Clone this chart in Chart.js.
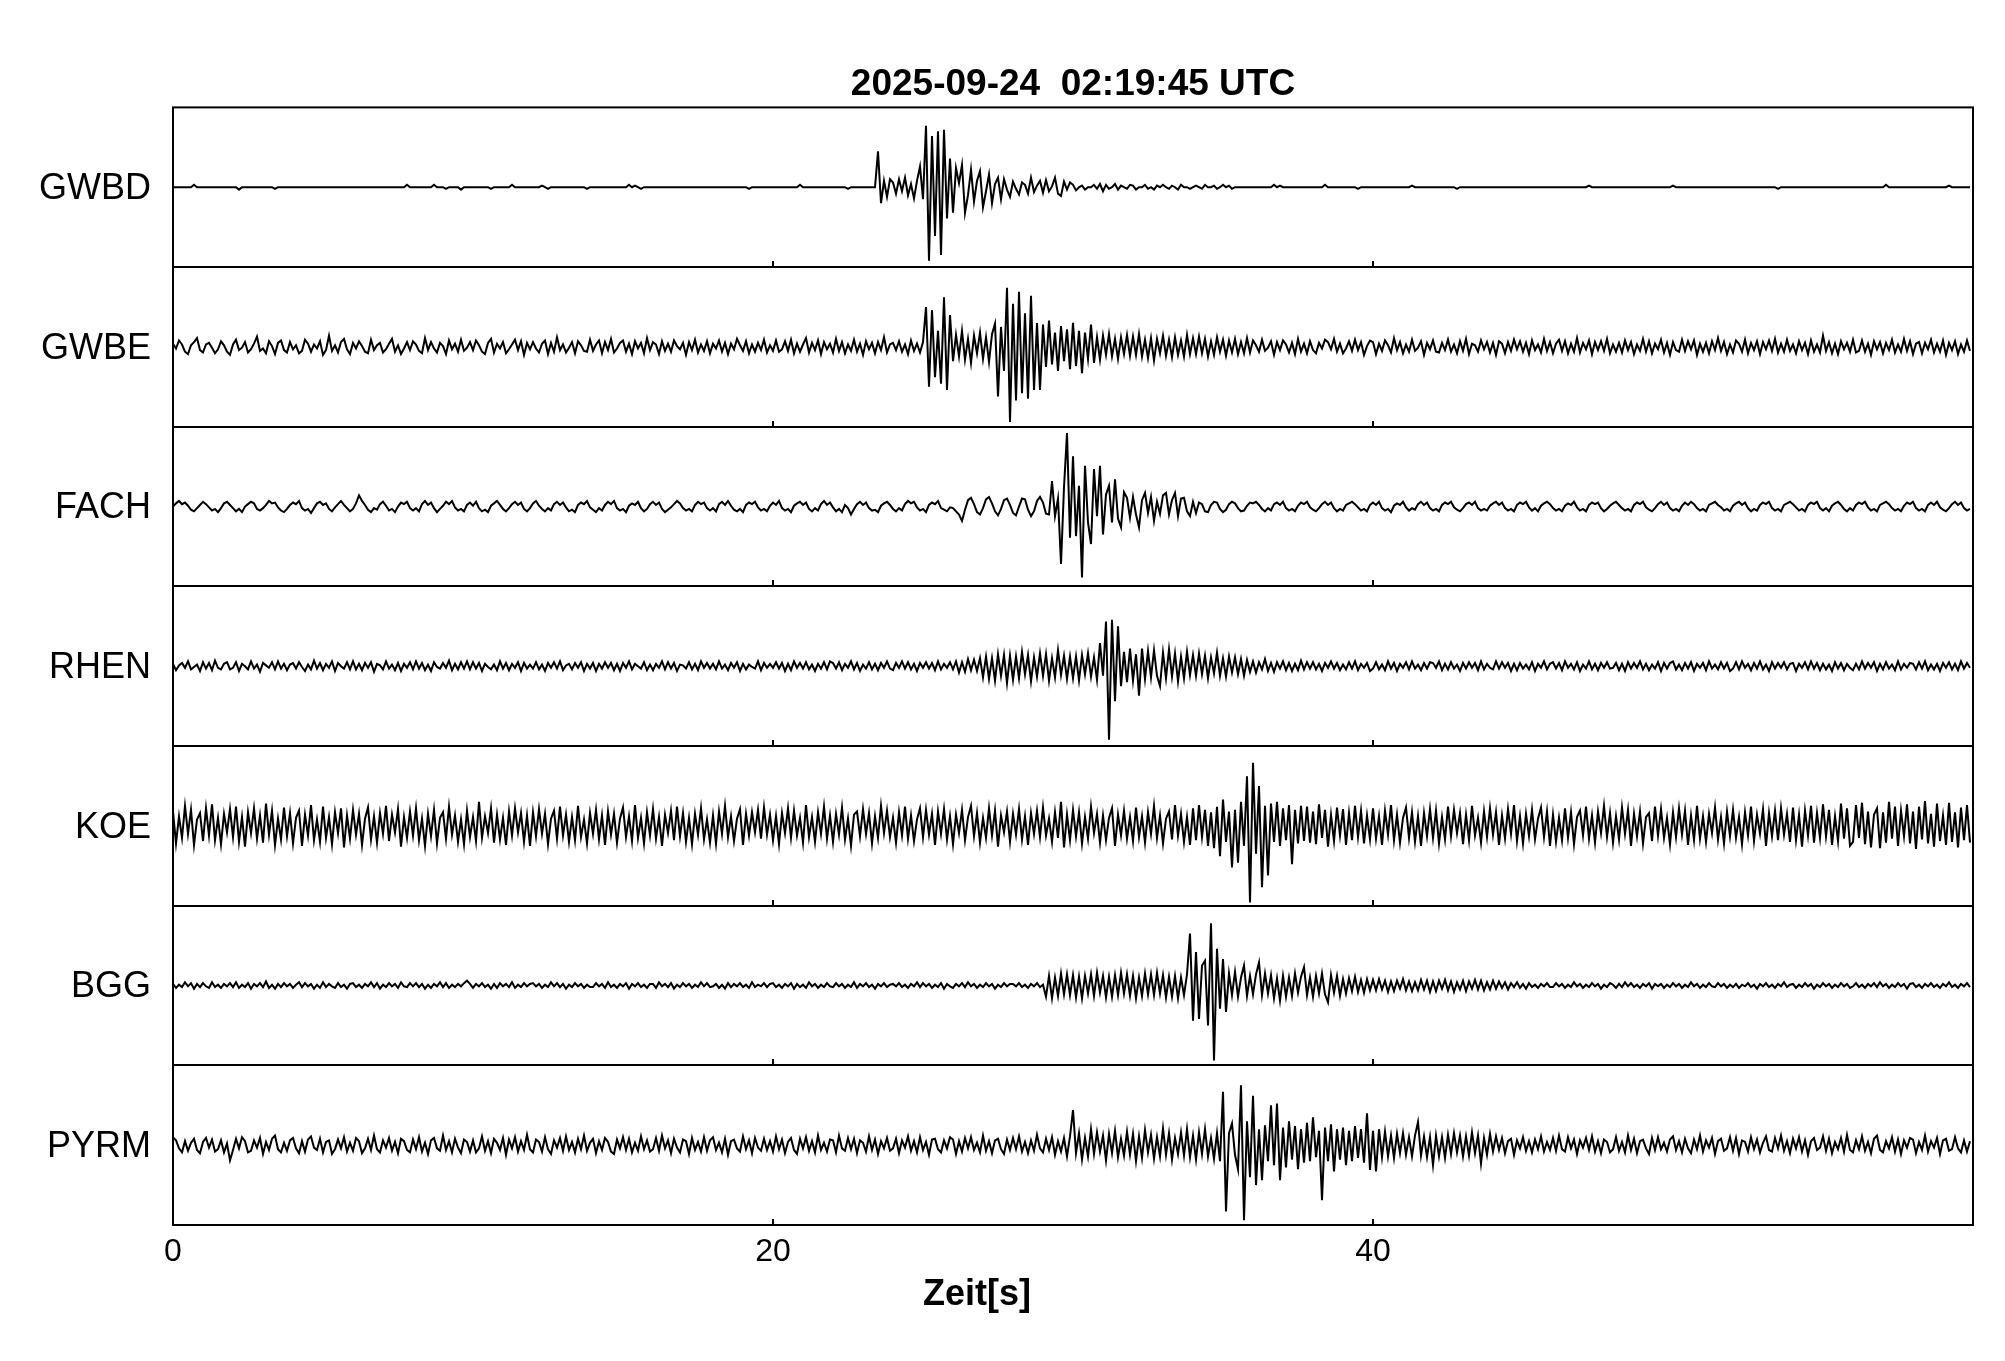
<!DOCTYPE html>
<html>
<head>
<meta charset="utf-8">
<script src="https://cdn.jsdelivr.net/npm/chart.js@4.4.1/dist/chart.umd.min.js"></script>
<style>
  html, body { margin: 0; padding: 0; background: #fff; }
  #wrap { width: 2005px; height: 1361px; }
</style>
</head>
<body>
<div id="wrap"><canvas id="seismoChart"></canvas></div>
<script>
// --- data (one value every 0.1 s, arbitrary amplitude units, +-100 = panel edge)
const titleText = '2025-09-24  02:19:45 UTC';
const xLabel = 'Zeit[s]';
const stations = ['GWBD', 'GWBE', 'FACH', 'RHEN', 'KOE', 'BGG', 'PYRM'];
const xTicks = [0, 20, 40];
const DT = 0.1;

const gwbd = [
  0,0,0,0,0,0,0,3,0,0,0,0,0,0,0,0,0,0,0,0,
  0,0,-3,0,0,0,0,0,0,0,0,0,0,0,-2,0,0,0,0,0,
  0,0,0,0,0,0,0,0,0,0,0,0,0,0,0,0,0,0,0,0,
  0,0,0,0,0,0,0,0,0,0,0,0,0,0,0,0,0,0,3,0,
  0,0,0,0,0,0,0,3,0,0,0,-2,0,0,0,0,-3,0,0,0,
  0,0,0,0,0,0,-2,0,0,0,0,0,0,3,0,0,0,0,0,0,
  0,0,0,2,0,-2,0,0,0,0,0,0,0,0,0,0,0,0,-2,0,
  0,0,0,0,0,0,0,0,0,0,0,0,3,0,2,0,-2,0,0,0,
  0,0,0,0,0,0,0,0,0,0,0,0,0,0,0,0,0,0,0,0,
  0,0,0,0,0,0,0,0,0,0,0,0,-2,0,0,0,0,0,0,0,
  0,0,0,0,0,0,0,0,0,3,0,0,0,0,0,0,0,0,0,0,
  0,0,0,0,0,-2,0,0,0,0,0,0,0,0,0,45,-20,8,-12,10,
  6,-8,10,-5,12,-10,4,-14,8,26,-15,77,-92,64,-61,70,-85,72,-39,36,
  -32,24,5,28,-32,-10,22,-18,8,20,-25,-5,16,-20,4,12,-15,10,-3,-12,
  7,-2,-9,6,3,-8,12,-6,2,8,-7,9,-5,1,12,-8,-11,7,-3,6,
  3,-4,0,2,-3,0,0,3,-2,4,-5,3,-2,0,4,-3,2,0,-2,3,
  2,-3,0,0,3,-2,0,-3,2,0,3,0,-2,2,0,-3,3,0,0,-2,
  0,2,0,-2,3,0,0,2,-2,0,3,0,2,-2,0,0,0,0,0,0,
  0,0,0,0,0,0,0,3,0,2,0,0,0,0,0,0,0,0,0,0,
  0,0,0,0,3,0,0,0,0,0,0,0,0,0,0,-2,0,0,0,0,
  0,0,0,0,0,0,0,0,0,0,0,0,0,2,0,0,0,0,0,0,
  0,0,0,0,0,0,0,0,-2,0,0,0,0,0,0,0,0,0,0,0,
  0,0,0,0,0,0,0,0,0,0,0,0,0,0,0,0,0,0,0,0,
  0,0,0,0,0,0,0,0,0,0,0,0,2,0,0,0,0,0,0,0,
  0,0,0,0,0,0,0,0,0,0,0,0,0,0,0,0,0,0,0,0,
  2,0,0,0,0,0,0,0,0,0,0,0,0,0,0,0,0,0,0,0,
  0,0,0,0,0,0,0,0,0,0,0,0,0,0,0,-2,0,0,0,0,
  0,0,0,0,0,0,0,0,0,0,0,0,0,0,0,0,0,0,0,0,
  0,0,0,0,0,0,0,0,0,0,0,3,0,0,0,0,0,0,0,0,
  0,0,0,0,0,0,0,0,0,0,0,0,2,0,0,0,0,0,0,0
];

const gwbe = [
  4,-2,8,3,-6,-9,2,6,11,-4,-7,3,5,-1,-8,-3,7,2,-6,-10,
  3,9,-4,-1,6,-7,-3,4,13,-5,-2,-8,7,1,-9,5,8,-4,-7,6,
  -3,2,-8,-5,9,4,-6,3,-2,7,-10,-4,14,-5,2,-7,6,10,-3,-9,
  5,-2,7,1,-6,-8,9,-4,2,5,-7,-3,4,10,-6,2,-9,-2,6,-4,
  7,3,-5,-8,11,-4,6,-2,-7,5,1,-9,8,-3,4,-6,9,-5,-1,6,
  -4,8,2,-6,-9,5,10,-7,4,-2,6,-8,-3,3,9,-4,7,-10,5,-3,
  6,-2,-7,4,8,-9,5,-6,12,-4,3,-7,-1,6,-8,7,2,-5,-6,9,
  -5,3,8,-8,6,-4,10,-7,-2,5,8,-6,4,-9,7,-2,5,-8,11,-4,
  6,3,-9,7,-5,4,-6,8,1,-3,5,-10,6,-4,9,-7,3,-5,7,-8,
  4,-2,8,-6,5,-9,4,-3,10,2,-5,7,-8,3,-6,5,-4,9,-7,2,
  -5,8,-6,-3,7,-5,9,-8,4,-6,3,11,-7,5,-4,8,-9,6,-3,4,
  -7,10,-5,6,-8,3,-5,9,-6,4,-10,7,-3,5,-8,6,-4,12,-7,3,
  5,-4,7,-6,3,-9,8,-5,4,-7,6,50,-50,46,-38,20,-46,62,-54,40,
  -18,15,-12,20,-16,10,-20,14,-8,18,-15,12,-19,16,29,-62,25,-30,74,-94,
  54,-67,69,-58,42,-65,64,-54,30,-54,28,-25,33,-22,18,-30,26,-18,22,-28,
  30,-24,20,-33,18,-15,28,-20,12,-16,14,-10,16,-12,10,-15,12,-9,15,-11,
  13,-10,16,-12,9,-14,11,-17,10,-8,14,-11,9,-13,12,-10,8,-12,15,-9,
  11,-9,13,-8,10,-12,7,-10,12,-6,9,-11,8,-7,10,-9,6,-8,11,-7,
  8,2,-6,9,-5,-1,7,-10,6,-4,8,3,-7,5,-9,10,-6,4,-8,7,
  -4,-8,5,-2,9,6,-3,10,-6,4,-8,-2,7,-5,9,-4,6,-10,1,8,
  6,-9,4,-5,8,2,-7,11,-4,6,-8,3,-6,9,-5,-1,7,-10,5,-3,
  8,-6,-7,5,-4,9,-6,3,-8,7,-5,10,-9,4,2,-6,8,-3,6,-7,
  5,-10,7,4,-8,6,-5,9,-3,7,-6,5,-9,8,-4,3,-7,10,-5,6,
  -8,4,9,-5,7,-8,4,-6,11,-7,5,-3,8,-9,6,-4,7,-5,10,-8,
  3,-6,5,-7,8,-4,6,-9,3,-5,10,-6,7,-8,4,-3,9,-7,5,-10,
  6,-4,-6,9,-5,7,-3,8,-10,4,-6,5,-8,7,-4,11,-5,6,-9,3,
  -7,8,4,-6,9,-8,5,-4,7,-9,6,-3,8,-5,10,-7,4,-6,9,-5,
  3,-8,7,-4,5,-9,8,-6,3,-7,14,-5,6,-8,4,-9,7,-3,5,-6,
  9,-7,-5,8,-6,4,-10,7,-3,6,-8,5,-4,9,-7,3,-6,10,-5,7,
  -9,4,6,-8,5,-3,9,-7,4,-6,8,-10,5,-4,7,-9,3,-6,8,-5
];

const fach = [
  0,4,7,3,5,1,-4,-6,-2,2,6,3,-1,-5,-3,-7,-2,4,6,2,
  -2,-6,-3,-7,0,3,6,4,-3,-5,-2,2,7,4,5,-1,-5,-7,-3,2,
  5,3,7,-2,-5,-3,-8,-2,4,6,2,4,-3,-6,-1,3,7,2,-2,-6,
  -3,4,14,7,2,-4,-7,-2,-4,3,6,1,-5,-3,-7,0,5,3,6,-2,
  -5,-2,-6,3,7,2,5,-2,-7,-3,1,6,3,7,-1,-5,-3,-6,2,5,
  1,6,-2,-6,-4,-7,1,4,7,2,-3,-6,-2,3,6,2,5,-3,-6,-2,
  4,7,1,-3,-6,-2,-5,3,6,2,5,-1,-6,-4,-7,2,5,3,7,-1,
  -4,-7,-2,-5,2,6,3,7,-2,-5,-3,-7,1,4,2,6,-2,-6,-3,3,
  6,2,5,-3,-7,-4,-1,3,7,4,-2,-5,-3,-6,2,6,3,5,-2,-5,
  -2,-6,3,6,2,7,1,-4,-6,-3,-7,2,5,3,6,-1,-5,-3,-6,1,
  5,2,7,-2,-5,-3,-7,1,4,6,2,5,-3,-6,-2,-5,3,7,2,5,
  -1,-6,-3,-7,2,-2,-10,-3,3,6,2,5,-2,-5,-4,-7,1,4,6,2,
  -3,-6,-2,-5,3,7,4,6,-1,-5,-3,-7,2,5,3,7,-2,-4,-6,-1,
  -2,-6,-10,-18,-4,8,11,3,-7,-10,-2,9,12,4,-6,-11,-3,8,10,2,
  -8,-11,0,10,9,-4,-12,-6,7,12,5,-9,-10,32,-12,10,-72,24,92,-39,
  63,-37,26,-89,51,-20,-47,47,-12,51,-35,15,26,-20,34,-15,-26,18,11,-14,
  12,-10,-26,8,17,-8,12,-18,6,-9,14,17,-10,8,17,-12,10,11,-6,-12,
  6,-8,5,3,-6,-7,2,6,5,-3,-7,-4,3,6,4,-2,-6,-5,1,5,
  4,6,2,-3,-6,-2,-5,3,5,2,6,-2,-5,-3,-6,1,5,3,6,-1,
  -4,-6,-2,3,6,2,5,-2,-6,-3,-5,2,4,6,3,-1,-5,-3,-6,2,
  5,2,6,-2,-5,-3,-7,1,4,2,6,-1,-5,-2,-4,3,6,2,5,-2,
  -5,-3,-6,2,5,3,6,-1,-4,-6,-2,3,5,2,6,-2,-5,-3,-5,1,
  4,6,2,5,-2,-5,-3,-6,2,5,3,6,-1,-5,-2,-6,1,4,6,3,
  -2,-5,-3,-6,1,4,2,6,-1,-5,-3,-6,2,5,3,5,-2,-6,-3,1,
  4,6,2,-2,-5,-3,-6,2,5,3,6,-1,-4,-6,-2,3,6,2,5,-2,
  -5,-3,-6,1,5,2,6,3,-2,-5,-3,-6,2,4,6,2,-1,-5,-3,-6,
  1,4,6,2,5,-2,-6,-3,-5,2,5,3,6,-2,-5,-3,-6,2,4,6,
  3,-1,-5,-3,-6,2,5,3,6,-2,-5,-2,-6,1,4,6,2,-3,-6,-2,
  -5,2,5,3,6,-1,-5,-3,-6,2,4,6,3,-2,-5,-3,-6,1,5,3,
  6,-2,-5,-3,-6,2,5,2,6,-1,-4,-6,-2,3,6,2,5,-2,-5,-3
];

const rhen = [
  3,-5,1,4,-2,6,-4,-1,2,-6,5,-3,4,-5,7,-2,-4,3,5,-4,
  -2,5,-6,3,0,-4,6,-3,2,-7,4,1,-2,5,-4,6,-3,3,-5,2,
  4,-3,5,-1,-6,2,-4,7,-3,4,-5,3,-2,6,-6,4,0,-3,5,-4,
  6,-4,3,-5,4,-2,5,-7,3,1,-4,6,-3,2,-5,4,-6,3,-2,5,
  -4,6,-3,4,-5,2,-6,5,-1,-3,4,-2,7,-5,3,-4,5,-3,6,-4,
  5,-3,4,-6,3,-1,-4,2,-5,6,-3,4,-5,3,-2,5,-6,4,-3,2,
  -3,5,-4,2,-6,4,-2,5,-3,6,-5,1,3,-4,4,-2,5,-6,3,-3,
  4,-6,3,-3,5,-2,4,-5,3,-6,4,-2,6,-4,3,0,-3,5,-5,2,
  -5,3,-2,6,-4,5,-3,4,-6,2,1,-3,5,-4,3,-5,6,-2,4,-3,
  3,-4,6,-3,2,-5,4,-2,5,-6,3,-4,2,-1,-3,6,-5,4,-2,3,
  -2,5,-3,4,-6,3,-5,6,-2,4,-3,5,-4,2,-6,3,-3,5,-4,6,
  4,-3,5,-5,3,-2,6,-4,4,-6,2,-3,5,-4,3,-5,4,-2,6,-3,
  -5,4,-2,6,-3,5,-4,3,-6,4,-2,5,-3,4,-5,6,-4,3,-2,5,
  -4,6,-8,5,-7,9,-5,8,-6,10,-14,12,-16,10,-18,15,-12,14,-21,13,
  -17,12,-15,18,-10,14,-19,11,-13,16,-12,15,-18,10,-14,20,-11,13,-16,12,
  -15,12,-18,14,-10,16,-13,11,-17,29,-12,56,-92,58,-44,50,-25,18,-20,22,
  -18,15,-37,22,-16,19,-14,20,-12,-25,17,-15,21,-13,16,-19,12,-15,18,-11,
  14,-12,16,-10,13,-15,11,-9,17,-12,10,-13,12,-8,11,-10,9,-12,8,-7,
  6,-8,5,-4,9,-6,4,-7,5,-3,6,-5,4,-6,3,-5,7,-4,5,-3,
  5,-4,3,-6,4,-2,6,-3,4,-5,2,-4,5,-3,6,-5,3,-2,4,-6,
  -3,5,-4,2,-5,6,-3,4,-6,3,-2,5,-4,6,-3,2,-5,4,-3,5,
  4,-2,6,-5,3,-4,5,-3,2,-6,4,-3,5,-2,4,-5,6,-4,3,-2,
  -4,6,-3,5,-2,4,-6,3,-5,4,-3,2,-4,5,-6,3,-2,6,-4,3,
  5,-3,4,-5,6,-2,3,-4,5,-6,2,-3,6,-4,3,-5,4,-2,5,-3,
  -2,4,-5,3,-6,5,-3,4,-2,6,-4,3,-5,2,-3,5,-6,4,-3,4,
  6,-4,2,-5,4,-3,5,-6,3,-2,4,-5,6,-3,2,-4,5,-3,4,-6,
  -3,5,-4,6,-2,3,-5,4,-3,6,-4,2,-6,5,-3,4,-2,5,-4,3,
  4,-6,3,-2,5,-4,6,-3,4,-5,3,-4,2,-6,5,-3,4,-5,3,-2,
  -5,3,-4,6,-3,4,-2,5,-6,3,-4,5,-3,2,-5,6,-4,3,-2,4,
  3,-4,5,-3,6,-5,2,-4,3,-6,4,-2,5,-4,3,-5,6,-3,4,-2
];

const koe = [
  18,-22,12,-15,25,-10,20,-24,8,16,-19,22,-12,27,-18,10,-23,15,-8,21,
  -14,24,-20,11,-26,17,-9,22,-16,13,-21,28,-11,19,-24,9,-17,23,-13,16,
  -22,10,19,-25,14,-12,26,-18,8,-20,24,-15,11,-23,17,-9,22,-27,13,-16,
  20,-11,15,-24,9,23,-17,12,-21,16,-10,25,-19,14,-8,21,-26,11,-15,18,
  -12,22,-18,9,-25,15,-13,20,-22,10,17,-16,24,-11,13,-20,8,-23,19,-14,
  11,-19,30,-15,12,-9,22,-21,14,-17,10,-24,18,-12,22,-8,16,-20,13,-25,
  17,-13,21,-10,15,-23,9,19,-16,24,-12,14,-20,11,-18,25,-14,8,-22,16,
  -10,20,-17,13,-24,18,-11,15,-21,9,23,-14,12,-19,26,-15,10,-22,17,-12,
  21,-16,11,-25,14,-9,19,-18,24,-13,16,-20,10,-23,15,-11,22,-17,8,-21,
  13,-22,18,-10,25,-14,12,-19,9,21,-24,15,-12,17,-8,20,-16,23,-11,14,
  -18,12,-23,16,-9,22,-15,19,-12,10,-21,26,-14,11,-20,17,-10,24,-16,13,
  -20,15,-11,23,-17,9,-25,14,18,-13,21,-10,16,-22,12,-15,25,-9,19,-14,
  10,-21,17,-12,24,-16,13,-19,8,22,-14,20,-11,15,-24,18,-10,21,-17,12,
  -23,14,-9,20,-18,11,25,-13,16,-21,10,-15,22,-12,19,-26,13,-8,18,-20,
  15,-11,21,-17,12,-24,16,-10,19,-14,23,-12,9,-20,17,-15,30,-27,14,-18,
  20,-13,17,-22,11,-16,24,-9,15,-21,13,-18,10,22,-25,14,-12,19,-16,11,
  -19,23,-14,12,-21,17,-10,25,-15,13,-22,9,18,-17,26,-12,15,-20,11,-24,
  22,-18,26,-14,20,-25,17,-28,24,-38,33,-20,18,-52,20,-46,30,-25,62,-96,
  79,-35,50,-77,25,-62,28,-20,30,-25,22,-18,26,-48,20,-22,25,-19,24,-21,
  18,-23,27,-15,20,-26,14,-19,23,-12,21,-24,16,-18,25,-14,19,-22,13,-17,
  22,-16,12,-24,19,-11,26,-18,14,-21,10,23,-15,17,-20,12,-25,16,-13,21,
  -15,19,-22,11,-17,24,-13,20,-9,16,-23,14,-18,25,-12,10,-21,18,-14,22,
  -11,17,-24,13,-16,21,-10,26,-19,12,-22,15,-13,20,-17,9,23,-14,18,-25,
  14,-20,10,-18,22,-15,17,-23,11,19,-12,24,-16,13,-21,18,-9,25,-14,16,
  -21,12,-17,23,-10,20,-25,15,-13,18,-22,11,16,-19,24,-12,21,-15,10,-23,
  17,-14,22,-11,19,-24,13,-18,25,-16,12,-20,15,-9,23,-17,11,-22,18,-13,
  20,-15,11,-23,17,-12,24,-19,14,-10,21,-25,16,-13,19,-18,22,-11,15,-20,
  23,-18,14,-26,19,-12,25,-21,16,-15,27,-13,20,-24,12,-19,28,-16,22,-25,
  -20,26,-15,29,-23,18,-27,14,22,-28,17,-21,30,-16,24,-25,19,-13,27,-22,
  18,-29,24,-17,31,-22,15,-26,28,-19,13,-24,29,-20,17,-27,23,-18,26,-21
];

const bgg = [
  2,-3,1,-2,4,-1,3,-4,2,-2,3,-1,-3,4,-2,1,-3,2,-1,3,
  -2,4,-3,1,-2,3,-4,2,-1,3,-2,5,-3,1,-4,2,-2,3,-1,2,
  -3,1,4,-2,3,-1,2,-4,1,-3,4,-2,2,-1,-3,3,-2,1,-4,2,
  3,-2,1,-3,2,-1,4,-2,3,-4,1,-2,3,-1,2,-3,4,-1,-2,3,
  -1,3,-2,2,-4,1,-3,2,-1,4,-2,3,-3,1,-2,2,-1,3,6,2,
  -3,2,-1,3,-2,1,-4,2,-3,3,-1,2,-2,4,-3,1,-2,3,-1,2,
  3,-1,2,-3,1,-2,4,-1,3,-2,2,-4,1,-2,3,-1,2,-3,1,-2,
  -2,3,-1,2,-3,4,-2,1,-3,2,-1,3,-4,2,-1,3,-2,1,-3,2,
  2,-3,4,-1,2,-2,3,-4,1,-2,3,-1,2,-3,1,-2,4,-1,3,-2,
  -1,2,-3,1,-4,3,-2,2,-1,3,-2,1,-3,4,-2,1,-1,3,-2,2,
  3,-2,1,-3,2,-1,3,-4,2,-2,1,-3,4,-1,2,-3,1,-2,3,-1,
  -2,3,-1,2,-3,1,-2,4,-3,2,-1,3,-2,1,-4,2,-1,3,-2,1,
  2,-1,3,-2,1,-3,2,-1,4,-2,3,-1,2,-3,1,-2,3,-4,2,-1,
  -3,2,-1,3,-2,4,-1,2,-3,1,-2,3,-1,2,-4,1,-2,3,-1,2,
  2,-1,3,-2,1,-3,2,-1,3,-2,1,-14,12,-16,10,-13,15,-11,14,-12,
  13,-15,11,-16,12,-10,14,-13,16,-9,12,-15,11,-14,13,-12,16,-10,14,-13,
  12,-16,10,-13,15,-11,14,-12,16,-10,13,-15,11,-14,12,-16,10,-12,14,65,
  -44,42,-42,25,31,-50,78,-94,46,-29,33,-33,15,-12,17,-14,10,25,-13,12,
  -11,14,29,-12,15,-10,13,-16,9,-19,12,-14,10,-13,15,-9,11,23,-12,10,
  -14,12,-10,15,-11,-21,13,-9,12,-13,8,-10,9,-7,11,-8,7,-9,8,-6,
  7,-6,8,-5,6,-8,5,-7,6,-4,8,-6,5,-7,4,-6,7,-5,6,-8,
  5,-7,6,-4,7,-6,5,-8,4,-5,6,-7,5,-4,7,-5,6,-6,4,-5,
  6,-4,5,-3,4,-5,3,-2,4,-3,2,-4,3,-2,1,-3,2,-1,3,-2,
  -2,3,-1,2,-3,1,-2,4,-1,2,-3,1,-2,3,-1,2,-4,1,-2,3,
  1,-3,2,-2,4,-1,3,-2,1,-3,2,-1,3,-4,2,-1,2,-3,1,-2,
  3,-1,2,-3,1,-2,4,-1,2,-3,1,-2,3,-1,-2,3,-1,2,-3,1,
  -2,2,-3,1,-1,3,-2,1,-4,2,-1,3,-2,1,-3,2,-1,4,-2,1,
  2,-3,1,-2,3,-1,2,-4,1,-2,3,-1,2,-3,1,-2,3,-1,2,-3,
  -1,3,-2,1,-3,2,-1,3,-2,4,-1,2,-3,1,-2,3,-1,2,-4,2,
  3,-2,1,-3,2,-1,3,-2,1,-3,2,-1,4,-2,1,-3,2,-1,3,-2
];

const pyrm = [
  10,6,-4,-9,5,-7,3,8,-6,-10,4,9,-3,7,-8,-5,6,-9,2,-19,
  -6,8,-4,10,5,-9,-7,6,-3,9,-11,4,-6,8,12,-5,-9,3,-7,6,
  9,-4,-10,5,-8,7,11,-3,-6,8,-9,4,6,-11,-5,7,-4,10,-8,3,
  -7,9,5,-10,-4,8,-6,12,-5,-9,6,-3,9,-7,4,-10,8,5,-6,-9,
  7,-5,10,-8,3,-11,6,9,-4,-7,12,-6,5,-9,8,-3,-10,7,4,-8,
  6,-9,-4,11,-7,5,-10,8,3,-6,9,-12,7,-4,10,-8,5,-6,13,-5,
  -9,7,4,-8,10,-5,-11,6,-3,9,-7,11,-6,4,-9,8,-5,12,-7,3,
  8,-10,5,-6,9,4,-8,-11,7,-4,10,-6,8,-9,3,-7,11,-5,6,-8,
  -5,9,-7,12,-4,6,-10,8,-3,-9,7,5,-11,9,-6,4,-8,10,-7,6,
  10,-6,3,-9,8,-12,5,7,-4,-8,11,-5,6,-10,9,-3,-7,8,-6,5,
  -8,11,-5,7,-10,4,9,-6,-11,8,-4,10,-7,5,-9,12,-6,3,-8,7,
  6,-9,12,-4,-7,9,-5,8,-10,6,3,-8,11,-6,7,-11,5,-4,9,-7,
  -4,8,-10,6,-3,11,-7,5,-9,10,-6,4,-12,7,8,-5,-9,6,-4,10,
  7,-11,5,-8,9,-4,10,-6,3,-9,12,-7,5,-10,6,8,-5,-11,7,-6,
  9,-5,11,-8,4,-10,6,-7,13,-4,-9,8,-6,10,-12,5,-8,9,-14,11,
  44,-10,15,-18,9,-14,20,-11,16,-8,12,-19,14,-10,18,-15,8,-13,17,-12,
  14,-20,11,-16,19,-9,13,-17,10,-14,21,-12,15,-18,9,-11,16,-13,20,-15,
  12,-18,16,-11,20,-14,9,-17,15,-20,67,-83,15,27,-12,-30,75,-94,30,-40,
  62,-50,20,-44,25,-20,50,-25,52,-44,22,-28,30,-18,24,-30,20,-22,28,-20,
  35,-15,18,-69,22,-20,26,-33,20,-18,22,-25,18,-20,24,-16,20,-22,40,-31,
  18,-33,20,-15,17,-14,12,-16,14,-10,15,-12,10,-14,12,29,-13,11,-15,10,
  -25,12,-14,10,-16,13,-11,15,-9,12,-14,11,-13,16,-10,12,-23,9,-12,14,
  -8,11,-6,9,-10,5,8,-12,6,-4,10,-7,5,-9,7,-5,11,-8,4,-6,
  9,-7,12,-5,-8,10,-4,7,-11,6,-3,9,-6,11,-8,5,-10,7,4,-9,
  -5,10,-7,4,-9,12,-6,8,-10,5,7,-4,-11,9,-6,10,-5,3,-8,7,
  11,-6,5,-9,8,-4,-10,7,-5,12,-8,6,-3,9,-11,5,8,-7,-4,10,
  -7,9,-11,6,4,-8,10,-5,7,-9,3,11,-6,-8,9,-4,12,-7,5,-10,
  8,-4,10,-8,6,-12,5,9,-6,-3,11,-7,8,-10,4,-5,9,-8,13,-6,
  -9,6,-5,11,-7,4,-10,8,12,-6,-9,5,-4,10,-8,7,-11,6,-3,9,
  7,-10,4,-6,12,-8,5,-3,9,-11,6,8,-7,-5,10,-4,-9,6,-8,5
];

const traces = [gwbd, gwbe, fach, rhen, koe, bgg, pyrm];

// every trace gets a band of PANEL units on a shared y axis, top trace first
const PANEL = 200;
const yMax = PANEL * stations.length;
function baseline(i) { return yMax - PANEL * (i + 0.5); }

const FONT = '"Liberation Sans", Arial, Helvetica, sans-serif';

const datasets = traces.map((vals, i) => ({
    label: stations[i],
    data: vals.map((v, k) => ({ x: Math.round(k * DT * 10) / 10, y: baseline(i) + v })),
    borderColor: '#000',
    borderWidth: 2,
    pointRadius: 0,
    fill: false,
    tension: 0
}));

// frame, panel separators, small ticks and station names
const panelFrame = {
    id: 'panelFrame',
    afterDraw(chart) {
        const { ctx, chartArea: a, scales: { x, y } } = chart;
        ctx.save();
        ctx.strokeStyle = '#000';
        ctx.lineWidth = 2;
        ctx.strokeRect(a.left, a.top, a.right - a.left, a.bottom - a.top);
        for (let i = 1; i < stations.length; i++) {
            const py = Math.round(y.getPixelForValue(PANEL * i));
            ctx.beginPath();
            ctx.moveTo(a.left, py);
            ctx.lineTo(a.right, py);
            ctx.stroke();
        }
        for (let i = 0; i < stations.length; i++) {
            const py = Math.round(y.getPixelForValue(PANEL * i));
            xTicks.forEach(t => {
                if (t === 0) return;
                const px = Math.round(x.getPixelForValue(t));
                ctx.beginPath();
                ctx.moveTo(px, py);
                ctx.lineTo(px, py - 6);
                ctx.stroke();
            });
        }
        ctx.fillStyle = '#000';
        ctx.font = '36px ' + FONT;
        ctx.textAlign = 'right';
        ctx.textBaseline = 'middle';
        stations.forEach((s, i) => {
            ctx.fillText(s, a.left - 22, y.getPixelForValue(baseline(i)) + 2);
        });
        // axis label sits left of centre in the original plot
        ctx.font = 'bold 36px ' + FONT;
        ctx.textAlign = 'center';
        ctx.fillText(xLabel, x.getPixelForValue(26.8), a.bottom + 70);
        ctx.restore();
    }
};

new Chart(document.getElementById('seismoChart').getContext('2d'), {
    type: 'line',
    data: { datasets: datasets },
    options: {
        responsive: true,
        maintainAspectRatio: false,
        animation: false,
        events: [],
        layout: { padding: { left: 173, right: 32, top: 0, bottom: 0 } },
        plugins: {
            legend: { display: false },
            tooltip: { enabled: false },
            title: {
                display: true,
                text: titleText,
                fullSize: false,
                color: '#000',
                font: { family: FONT, size: 37, weight: 'bold' },
                padding: { top: 63, bottom: 0 }
            }
        },
        scales: {
            x: {
                type: 'linear',
                min: 0,
                max: 60,
                afterBuildTicks: scale => { scale.ticks = xTicks.map(v => ({ value: v })); },
                afterFit: scale => { scale.height = 136; },
                grid: { display: false, drawTicks: false },
                border: { display: false },
                ticks: {
                    color: '#000',
                    padding: 8,
                    maxRotation: 0,
                    autoSkip: false,
                    font: { family: FONT, size: 32 }
                }
            },
            y: {
                display: false,
                min: 0,
                max: yMax
            }
        }
    },
    plugins: [panelFrame]
});
</script>
</body>
</html>
